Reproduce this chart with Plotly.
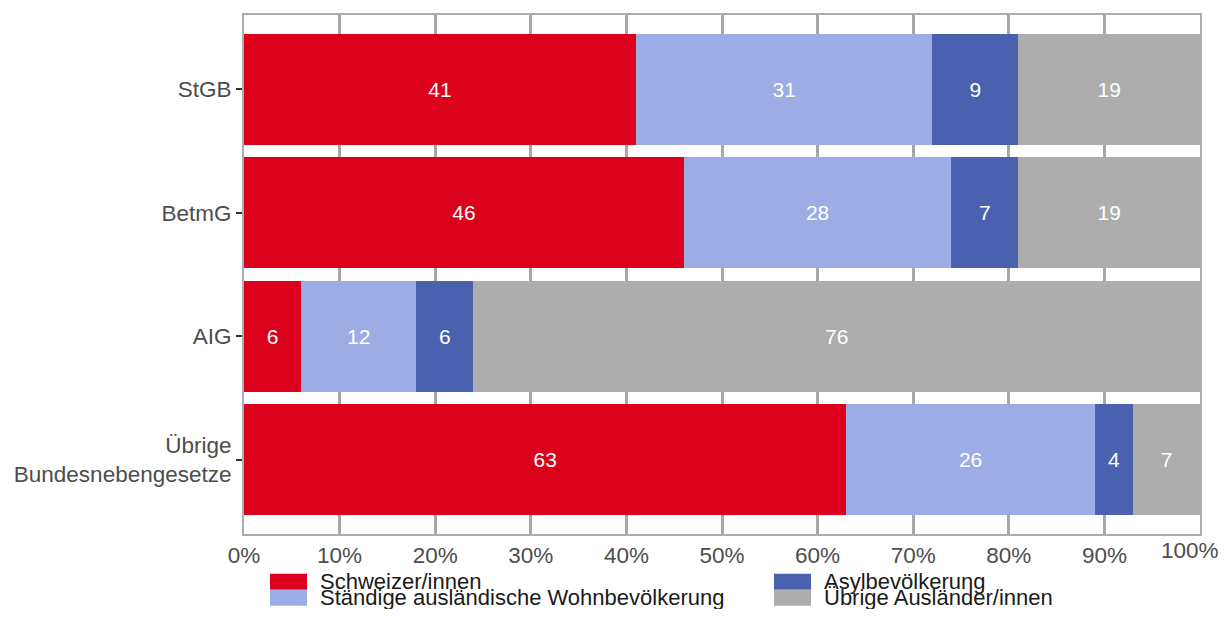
import plotly.graph_objects as go

categories = ["StGB", "BetmG", "AIG", "Übrige<br>Bundesnebengesetze"]
series_names = ["Schweizer/innen", "Ständige ausländische Wohnbevölkerung",
                "Asylbevölkerung", "Übrige Ausländer/innen"]
schweizer = [41, 46, 6, 63]
staendige = [31, 28, 12, 26]
asyl = [9, 7, 6, 4]
uebrige = [19, 19, 76, 7]
x_ticks = [0, 10, 20, 30, 40, 50, 60, 70, 80, 90, 100]
x_ticklabels = [f"{v}%" for v in x_ticks]

colors = ["#DB001B", "#9BADE4", "#4A61B0", "#ADADAD"]
values = [schweizer, staendige, asyl, uebrige]
FONT = "Liberation Sans, Arial"
TICKFONT = dict(size=22.5, color="#4D4D4D", family=FONT)

fig = go.Figure()
for name, vals, col in zip(series_names, values, colors):
    fig.add_trace(go.Bar(
        y=categories, x=vals, name=name, orientation="h",
        marker=dict(color=col, line=dict(width=0)),
        text=[str(v) for v in vals], textposition="inside",
        insidetextanchor="middle", textangle=0, constraintext="none",
        textfont=dict(color="white", size=21, family=FONT),
        width=0.9, showlegend=False,
    ))

# the page has an 8px body margin; the figure sits at (8, 8) and must fit the window
OFF = 8
W, H = 1229 - 2 * OFF, 617 - 2 * OFF
L, R, T, B = 244 - OFF, (W + OFF) - 1200, 13 - OFF, (H + OFF) - 534
pw, ph = W - L - R, H - T - B

def px_x(p):
    return (p - OFF - L) / pw

def px_y(p):
    return (H - B - (p - OFF)) / ph

# legend: two columns, column-major order
legend_items = [
    (series_names[0], colors[0], 270, 574),
    (series_names[1], colors[1], 270, 590),
    (series_names[2], colors[2], 774, 574),
    (series_names[3], colors[3], 774, 590),
]
shapes = []
annotations = []
for name, col, x0, y0 in legend_items:
    shapes.append(dict(type="rect", xref="paper", yref="paper",
                       x0=px_x(x0), x1=px_x(x0 + 37), y0=px_y(y0 + 16), y1=px_y(y0),
                       fillcolor=col, line=dict(width=0), layer="above"))
    annotations.append(dict(xref="paper", yref="paper", x=px_x(x0 + 48), y=px_y(y0 + 8),
                            text=name, showarrow=False, xanchor="left", yanchor="middle",
                            font=dict(size=22, color="#1a1a1a", family=FONT)))

# last x tick label would pass the figure edge: place it right-aligned at the edge
shown_ticktext = x_ticklabels[:-1] + [""]
annotations.append(dict(xref="paper", yref="paper", x=px_x(W + OFF), y=px_y(551),
                        text=x_ticklabels[-1], showarrow=False, xanchor="right",
                        yanchor="middle", font=TICKFONT))

fig.update_layout(
    barmode="stack",
    width=W, height=H,
    margin=dict(l=L, r=R, t=T, b=B),
    plot_bgcolor="white", paper_bgcolor="white",
    bargap=0.1,
    shapes=shapes, annotations=annotations,
    xaxis=dict(range=[0, 100], tickvals=x_ticks, ticktext=shown_ticktext,
               showgrid=True, gridcolor="#A8A8A8", gridwidth=2.5,
               showline=True, linecolor="#ADADAD", linewidth=2, mirror=True,
               ticks="", zeroline=False, tickfont=TICKFONT),
    yaxis=dict(categoryorder="array", categoryarray=categories, autorange=False,
               range=[3.6, -0.6],
               showgrid=False, showline=True, linecolor="#ADADAD", linewidth=2, mirror=True,
               ticks="outside", ticklen=6, tickwidth=2, tickcolor="#333333",
               tickfont=TICKFONT),
    font=dict(family=FONT),
)

fig.write_html("out.html")
